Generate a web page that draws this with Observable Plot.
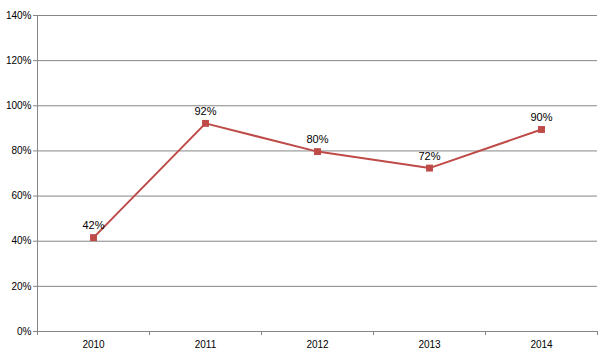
<!DOCTYPE html>
<html><head><meta charset="utf-8">
<script src="https://cdn.jsdelivr.net/npm/d3@7"></script>
<script src="https://cdn.jsdelivr.net/npm/@observablehq/plot@0.6"></script>
<style>body{margin:0;background:#fff}</style>
</head><body><div id="chart"></div>
<script>
const years = ["2010", "2011", "2012", "2013", "2014"];
const values = [0.416, 0.922, 0.797, 0.724, 0.895];
const yTicks = [0, 0.2, 0.4, 0.6, 0.8, 1.0, 1.2, 1.4];

const data = years.map((y, i) => ({i, year: y, v: values[i]}));
const bounds = d3.range(years.length + 1).map(k => k - 0.5);
const pct = d3.format(".0%");

const chart = Plot.plot({
  width: 607, height: 351,
  marginLeft: 37, marginRight: 10, marginTop: 15, marginBottom: 20,
  style: {fontFamily: "'Liberation Sans', Arial, sans-serif", fontSize: "10px", color: "#000", background: "#fff"},
  x: {domain: [-0.5, years.length - 0.5]},
  y: {domain: [0, 1.4]},
  marks: [
    Plot.gridY(yTicks, {stroke: "#868686", strokeOpacity: 1, strokeWidth: 1}),
    Plot.ruleX([-0.5], {stroke: "#868686", strokeWidth: 1}),
    Plot.axisY({ticks: yTicks, tickFormat: pct, tickSize: 4, tickPadding: 2, stroke: "#868686", label: null, fontSize: 10}),
    Plot.axisX({ticks: bounds, tickSize: 4, tickFormat: () => "", stroke: "#868686", label: null}),
    Plot.axisX({ticks: d3.range(years.length), tickSize: 0, tickPadding: 9, tickFormat: i => years[i], label: null, fontSize: 10}),
    Plot.line(data, {x: "i", y: "v", stroke: "#be4b48", strokeWidth: 2}),
    Plot.dot(data, {x: "i", y: "v", symbol: "square", r: 3.9, fill: "#be4b48", stroke: "none"}),
    Plot.text(data, {x: "i", y: "v", text: d => pct(d.v), dy: -12, fontSize: 11, fill: "#000"})
  ]
});
document.getElementById("chart").appendChild(chart);
</script>
</body></html>
